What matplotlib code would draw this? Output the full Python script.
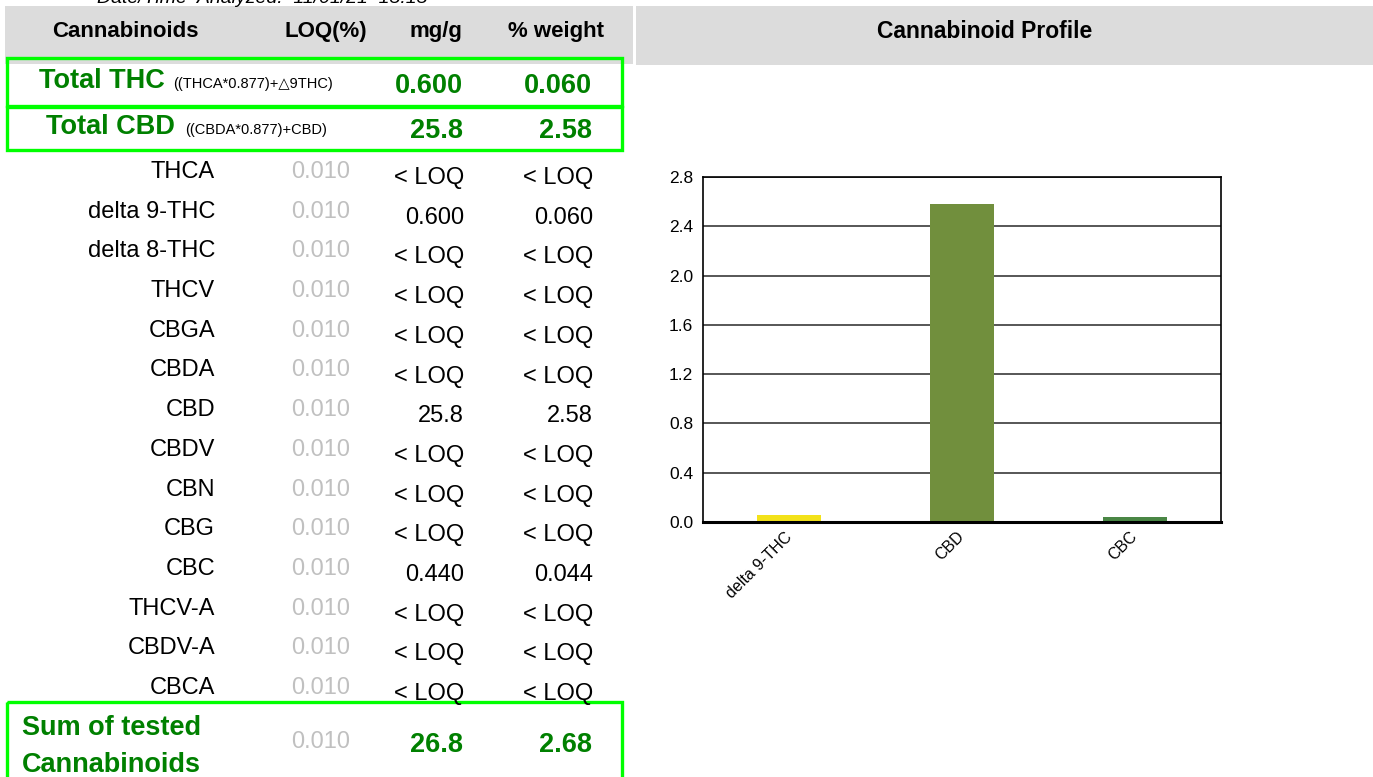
import matplotlib
matplotlib.use('Agg')
import matplotlib.pyplot as plt
from matplotlib.patches import Rectangle
from matplotlib.transforms import ScaledTranslation

plt.rcParams['font.family'] = ['Liberation Sans', 'DejaVu Sans']

# table data
names = ['THCA', 'delta 9-THC', 'delta 8-THC', 'THCV', 'CBGA', 'CBDA', 'CBD',
         'CBDV', 'CBN', 'CBG', 'CBC', 'THCV-A', 'CBDV-A', 'CBCA']
loq = ['0.010'] * 14
mg_g = ['< LOQ', '0.600', '< LOQ', '< LOQ', '< LOQ', '< LOQ', '25.8',
        '< LOQ', '< LOQ', '< LOQ', '0.440', '< LOQ', '< LOQ', '< LOQ']
pct_weight = ['< LOQ', '0.060', '< LOQ', '< LOQ', '< LOQ', '< LOQ', '2.58',
              '< LOQ', '< LOQ', '< LOQ', '0.044', '< LOQ', '< LOQ', '< LOQ']
headers = ['Cannabinoids', 'LOQ(%)', 'mg/g', '% weight']
total_thc = ['0.600', '0.060']
total_cbd = ['25.8', '2.58']
sum_tested = ['0.010', '26.8', '2.68']

# chart data
chart_labels = ['delta 9-THC', 'CBD', 'CBC']
chart_values = [0.060, 2.58, 0.044]
chart_colors = ['#f3e21a', '#718f3d', '#4a8745']

GREEN = '#008000'
BOX = '#00ff00'
GREY_TXT = '#c0c0c0'
BAND = '#dcdcdc'

fig = plt.figure(figsize=(13.73, 7.77), dpi=100)

# page layer in pixel coordinates
pg = fig.add_axes([0, 0, 1, 1])
pg.set_xlim(0, 1373)
pg.set_ylim(777, 0)
pg.axis('off')

pg.add_patch(Rectangle((5, 6), 628, 58, color=BAND, lw=0))
pg.add_patch(Rectangle((636, 6), 737, 59, color=BAND, lw=0))

# only the lower part of this line is inside the page, as in the source
pg.text(97, 3, 'Date/Time  Analyzed:  11/01/21  15:15', fontsize=14,
        style='italic', va='baseline', ha='left')

hx = [125, 326, 436, 556]
for x, h in zip(hx, headers):
    pg.text(x, 37, h, fontsize=16, fontweight='bold', ha='center', va='baseline')
pg.text(985, 38, 'Cannabinoid Profile', fontsize=16.5, fontweight='bold',
        ha='center', va='baseline')

# green boxes
for (y0, hgt) in [(58, 48), (107, 43), (702, 90)]:
    pg.add_patch(Rectangle((6.5, y0), 615, hgt, fill=False, ec=BOX, lw=2.4))

# totals
pg.text(39, 88, 'Total THC', fontsize=19.5, fontweight='bold', color=GREEN,
        ha='left', va='baseline')
pg.text(173, 88, '((THCA*0.877)+\u25b39THC)', fontsize=10.5, ha='left', va='baseline')
pg.text(463, 93, total_thc[0], fontsize=19.5, fontweight='bold', color=GREEN,
        ha='right', va='baseline')
pg.text(592, 93, total_thc[1], fontsize=19.5, fontweight='bold', color=GREEN,
        ha='right', va='baseline')

pg.text(46, 134, 'Total CBD', fontsize=19.5, fontweight='bold', color=GREEN,
        ha='left', va='baseline')
pg.text(185, 134, '((CBDA*0.877)+CBD)', fontsize=10.5, ha='left', va='baseline')
pg.text(463, 138, total_cbd[0], fontsize=19.5, fontweight='bold', color=GREEN,
        ha='right', va='baseline')
pg.text(592, 138, total_cbd[1], fontsize=19.5, fontweight='bold', color=GREEN,
        ha='right', va='baseline')

# rows
for i in range(len(names)):
    yb = 178 + 39.7 * i
    pg.text(215, yb, names[i], fontsize=17, ha='right', va='baseline')
    pg.text(321, yb, loq[i], fontsize=17, color=GREY_TXT, ha='center', va='baseline')
    pg.text(464, yb + 6, mg_g[i], fontsize=17, ha='right', va='baseline')
    pg.text(593, yb + 6, pct_weight[i], fontsize=17, ha='right', va='baseline')

# sum row
pg.text(22, 735, 'Sum of tested', fontsize=19.5, fontweight='bold', color=GREEN,
        ha='left', va='baseline')
pg.text(22, 772, 'Cannabinoids', fontsize=19.5, fontweight='bold', color=GREEN,
        ha='left', va='baseline')
pg.text(321, 748, sum_tested[0], fontsize=17, color=GREY_TXT, ha='center', va='baseline')
pg.text(463, 752, sum_tested[1], fontsize=19.5, fontweight='bold', color=GREEN,
        ha='right', va='baseline')
pg.text(592, 752, sum_tested[2], fontsize=19.5, fontweight='bold', color=GREEN,
        ha='right', va='baseline')

# bar chart
ax = fig.add_axes([703 / 1373, 1 - 522 / 777, 518 / 1373, 345 / 777])
xs = range(len(chart_labels))
ax.bar(xs, chart_values, width=0.37, color=chart_colors, zorder=3)
ax.set_xlim(-0.5, 2.5)
ax.set_ylim(0, 2.8)
ax.set_yticks([0.0, 0.4, 0.8, 1.2, 1.6, 2.0, 2.4, 2.8])
ax.set_yticklabels(['%.1f' % v for v in ax.get_yticks()], fontsize=12.5)
ax.yaxis.grid(True, color='#3a3a3a', lw=1.2, zorder=1)
ax.set_axisbelow(True)
ax.set_xticks(list(xs))
ax.set_xticklabels(chart_labels, fontsize=11.5, rotation=45, ha='right',
                   va='center', rotation_mode='anchor')
off = ScaledTranslation(12 / 100, 0, fig.dpi_scale_trans)
for lab in ax.get_xticklabels():
    lab.set_transform(lab.get_transform() + off)
ax.tick_params(axis='both', length=0)
ax.tick_params(axis='y', pad=7)
ax.tick_params(axis='x', pad=9)
for s in ['left', 'right', 'top']:
    ax.spines[s].set_color('black')
    ax.spines[s].set_linewidth(1.2)
ax.spines['bottom'].set_linewidth(2.2)
ax.spines['bottom'].set_zorder(4)

fig.savefig('out.png', dpi=100)
